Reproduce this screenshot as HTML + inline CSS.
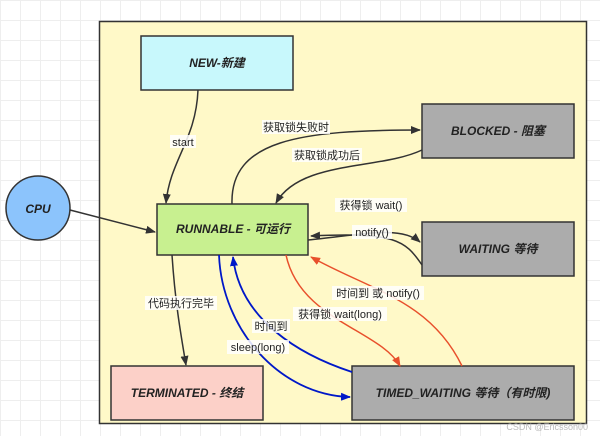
<!DOCTYPE html>
<html><head><meta charset="utf-8"><style>
body{margin:0;width:600px;height:436px;overflow:hidden;background:#fff;
background-image:linear-gradient(#eee 1px,transparent 1px),linear-gradient(90deg,#eee 1px,transparent 1px);background-size:20px 20px;}
svg{position:absolute;left:0;top:0}
text{font-family:"Liberation Sans","Noto Sans CJK SC",sans-serif;font-size:11px;fill:#222}
.b{font-weight:bold;font-style:italic;font-size:12px;fill:#222}
</style></head><body>
<svg width="600" height="436" viewBox="0 0 600 436">
<defs>
<marker id="ak" markerWidth="10" markerHeight="8" refX="9" refY="4" orient="auto" markerUnits="userSpaceOnUse"><path d="M0,0L10,4L0,8z" fill="#333"/></marker>
<marker id="ar" markerWidth="10" markerHeight="8" refX="9" refY="4" orient="auto" markerUnits="userSpaceOnUse"><path d="M0,0L10,4L0,8z" fill="#e8502c"/></marker>
<marker id="ab" markerWidth="10" markerHeight="8" refX="9" refY="4" orient="auto" markerUnits="userSpaceOnUse"><path d="M0,0L10,4L0,8z" fill="#0018c8"/></marker>
</defs>
<rect x="99.5" y="21.5" width="487" height="402" fill="#fff9c8" stroke="#333" stroke-width="1.5"/>
<rect x="141" y="36" width="152" height="54" fill="#c8f8fc" stroke="#333" stroke-width="1.5"/>
<text class="b" x="217" y="67" text-anchor="middle">NEW-新建</text>
<rect x="422" y="104" width="152" height="54" fill="#acacac" stroke="#333" stroke-width="1.5"/>
<text class="b" x="498" y="135" text-anchor="middle">BLOCKED - 阻塞</text>
<circle cx="38" cy="208" r="32" fill="#8cc4fc" stroke="#333" stroke-width="1.5"/>
<text class="b" x="38" y="213" text-anchor="middle">CPU</text>
<rect x="157" y="204" width="151" height="51" fill="#c8f090" stroke="#333" stroke-width="1.5"/>
<text class="b" x="233" y="233" text-anchor="middle">RUNNABLE - 可运行</text>
<rect x="422" y="222" width="152" height="54" fill="#acacac" stroke="#333" stroke-width="1.5"/>
<text class="b" x="498" y="253" text-anchor="middle">WAITING 等待</text>
<rect x="111" y="366" width="152" height="54" fill="#fcd0c8" stroke="#333" stroke-width="1.5"/>
<text class="b" x="187" y="397" text-anchor="middle">TERMINATED - 终结</text>
<rect x="352" y="366" width="222" height="54" fill="#acacac" stroke="#333" stroke-width="1.5"/>
<text class="b" x="463" y="397" text-anchor="middle">TIMED_WAITING 等待（有时限)</text>
<g fill="none" stroke="#333" stroke-width="1.5">
<path d="M198,90 C196,140 170,160 166,203" marker-end="url(#ak)"/>
<path d="M70,210 L155,232" marker-end="url(#ak)"/>
<path d="M232,204 C230,140 300,130 420,130" marker-end="url(#ak)"/>
<path d="M422,150 C380,170 300,160 276,203" marker-end="url(#ak)"/>
<path d="M308,240 C360,235 400,225 420,242" marker-end="url(#ak)"/>
<path d="M422,265 C405,240 395,232 311,236" marker-end="url(#ak)"/>
<path d="M172,255 C175,300 180,330 186,365" marker-end="url(#ak)"/>
</g>
<g fill="none" stroke="#e8502c" stroke-width="1.5">
<path d="M286,255 C300,320 380,330 400,366" marker-end="url(#ar)"/>
<path d="M462,366 C430,300 370,290 311,257" marker-end="url(#ar)"/>
</g>
<g fill="none" stroke="#0018c8" stroke-width="1.8">
<path d="M219,255 C222,330 280,395 350,397" marker-end="url(#ab)"/>
<path d="M352,372 C300,355 240,320 233,257" marker-end="url(#ab)"/>
</g>
<g fill="#fff" opacity="0.85">
<rect x="170" y="135" width="26" height="13"/>
<rect x="262" y="120" width="68" height="14"/>
<rect x="292" y="148" width="70" height="14"/>
<rect x="335" y="198" width="72" height="14"/>
<rect x="352" y="225" width="40" height="14"/>
<rect x="145" y="296" width="72" height="14"/>
<rect x="332" y="286" width="92" height="14"/>
<rect x="293" y="307" width="94" height="14"/>
<rect x="252" y="319" width="38" height="14"/>
<rect x="227" y="340" width="62" height="14"/>
</g>
<text x="183" y="146" text-anchor="middle">start</text>
<text x="296" y="131" text-anchor="middle">获取锁失败时</text>
<text x="327" y="159" text-anchor="middle">获取锁成功后</text>
<text x="371" y="209" text-anchor="middle">获得锁 wait()</text>
<text x="372" y="236" text-anchor="middle">notify()</text>
<text x="181" y="307" text-anchor="middle">代码执行完毕</text>
<text x="378" y="297" text-anchor="middle">时间到 或 notify()</text>
<text x="340" y="318" text-anchor="middle">获得锁 wait(long)</text>
<text x="271" y="330" text-anchor="middle">时间到</text>
<text x="258" y="351" text-anchor="middle">sleep(long)</text>
<text x="588" y="430" text-anchor="end" style="font-size:9px;fill:#bbb">CSDN @Ericsson00</text>
</svg>
</body></html>
